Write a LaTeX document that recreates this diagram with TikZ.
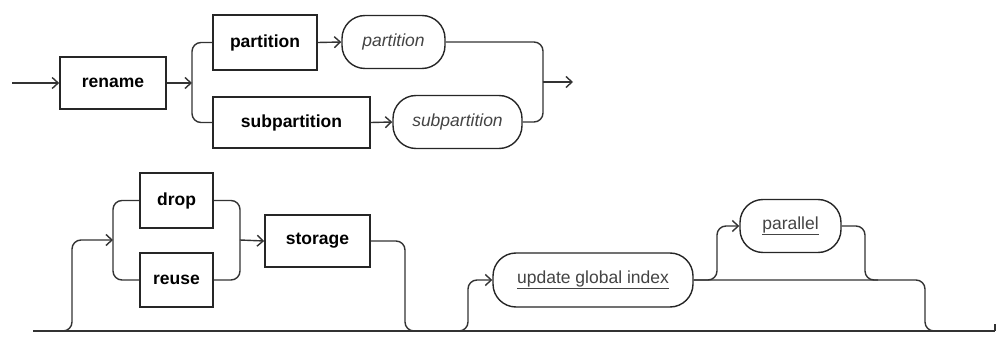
\documentclass[tikz,border=0pt]{standalone}
\usepackage{fontspec}
\setmainfont{Liberation Sans}
\usetikzlibrary{arrows.meta}
\definecolor{railcol}{HTML}{333333}
\definecolor{framecol}{HTML}{262626}
\definecolor{termcol}{HTML}{444444}
\begin{document}
\begin{tikzpicture}[x=1pt,y=-1pt,
  kw/.style={draw=framecol,line width=1.6pt,fill=white,inner sep=0pt,
    font=\fontsize{17.5}{20}\selectfont\bfseries},
  term/.style={draw=framecol,line width=1.4pt,fill=white,rounded corners=23pt,
    inner sep=0pt,text=termcol,font=\fontsize{17.5}{20}\selectfont},
  rail/.style={draw=railcol,line width=1.4pt,rounded corners=9pt},
  into/.style={rail,-{Straight Barb[length=6pt,width=11pt,line width=1.4pt]}}]
\useasboundingbox (0,0) rectangle (996,339);

% ---- first line: rename partition / subpartition
\node[kw,minimum width=106pt,minimum height=52pt] (rename) at (113,83) {rename};
\node[kw,minimum width=104pt,minimum height=55pt] (partkw) at (265,42.5) {partition};
\node[kw,minimum width=157pt,minimum height=51pt] (subkw) at (291.5,122.5) {subpartition};
\node[term,minimum width=103pt,minimum height=53pt] (partnm) at (393.5,42) {\itshape partition};
\node[term,minimum width=129pt,minimum height=53pt] (subnm) at (457.5,122) {\itshape subpartition};

\coordinate (start) at (12,83);
\coordinate (fork) at (192,83);
\coordinate (join) at (543,82);
\coordinate (finish) at (573,82);

\draw[into] (start) -- (rename.west);
\draw[into] (rename.east) -- (fork);
\draw[rail] (fork) |- (partkw.west);
\draw[rail] (fork) |- (subkw.west);
\draw[into] (partkw.east) -- (partnm.west);
\draw[into] (subkw.east) -- (subnm.west);
\draw[rail] (partnm.east) -| (join);
\draw[rail] (subnm.east) -| (join);
\draw[into] (join) -- (finish);

% ---- second line: storage and index clauses
\node[kw,minimum width=73pt,minimum height=55pt] (drop) at (176.5,200.5) {drop};
\node[kw,minimum width=73pt,minimum height=54pt] (reuse) at (176.5,280) {reuse};
\node[kw,minimum width=105pt,minimum height=52pt] (storage) at (317.5,241) {storage};
\node[term,minimum width=200pt,minimum height=54pt] (ugi) at (593,280) {\underline{update global index}};
\node[term,minimum width=101pt,minimum height=53pt] (par) at (790.5,226) {\underline{parallel}};

\coordinate (base0) at (33,331);
\coordinate (base1) at (995,331);
\coordinate (tick) at (995,324);
\coordinate (upA0) at (60,331);
\coordinate (upAtop) at (72,240);
\coordinate (forkA) at (113,240);
\coordinate (joinA) at (240,240);
\coordinate (downA) at (405,331);
\coordinate (downA1) at (417,331);
\coordinate (upB0) at (456,331);
\coordinate (upB) at (468,280);
\coordinate (forkB) at (717,226);
\coordinate (joinB) at (865,280);
\coordinate (joinB1) at (878,280);
\coordinate (downB) at (925,331);
\coordinate (downB1) at (937,331);

\draw[rail] (base0) -- (base1);
\draw[rail,rounded corners=0pt] (base1) -- (tick);
\draw[into] (upA0) -| (upAtop) -- (forkA);
\draw[rail] (forkA) |- (drop.west);
\draw[rail] (forkA) |- (reuse.west);
\draw[rail] (drop.east) -| (joinA);
\draw[rail] (reuse.east) -| (joinA);
\draw[into] (joinA) -- (storage.west);
\draw[rail] (storage.east) -| (downA) -- (downA1);

\draw[into] (upB0) -| (upB) -- (ugi.west);
\draw[into] (ugi.east) -| (forkB) -- (par.west);
\draw[rail] (par.east) -| (joinB) -- (joinB1);
\draw[rail] (ugi.east) -| (downB) -- (downB1);
\end{tikzpicture}
\end{document}
